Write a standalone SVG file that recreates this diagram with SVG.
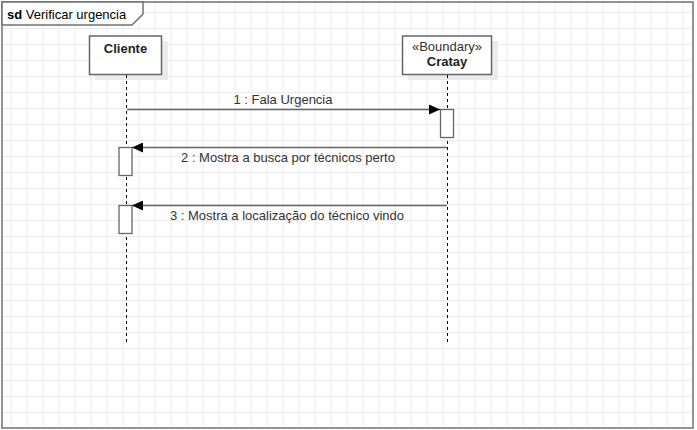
<svg xmlns="http://www.w3.org/2000/svg" width="697" height="430" viewBox="0 0 697 430">
<defs>
<pattern id="grid" x="10.5" y="12" width="16" height="16" patternUnits="userSpaceOnUse">
<path d="M0 0.5H16M0.5 0V16" stroke="#ececec" stroke-width="1" fill="none"/>
</pattern>
<marker id="arr" markerWidth="12" markerHeight="10" refX="11" refY="5" orient="auto" markerUnits="userSpaceOnUse">
<path d="M0 0L11 5L0 10Z" fill="#000"/>
</marker>
<style>
.t{font-family:"Liberation Sans",Arial,sans-serif;font-size:13px;fill:#333}
.b{font-weight:bold}
.box{fill:#fff;stroke:#666;stroke-width:1.5}
.sh{fill:#ebebeb}
.life{stroke:#000;stroke-width:1;stroke-dasharray:3,3}
.msg{stroke:#666;stroke-width:1.5;fill:none}
.act{fill:#fff;stroke:#666;stroke-width:1.3}
</style>
</defs>
<rect width="697" height="430" fill="#fff"/>
<rect x="2" y="2" width="691" height="426" fill="url(#grid)"/>
<g id="frame">
<rect x="2" y="2" width="691" height="426" fill="none" stroke="#707070" stroke-width="1.5"/>
<path d="M2 2H143V14L132 25H2Z" fill="#fff" stroke="#707070" stroke-width="1.5"/>
<text class="t" x="7" y="19" style="fill:#000"><tspan class="b">sd</tspan> Verificar urgencia</text>
</g>
<g id="cliente">
<rect class="sh" x="95" y="41" width="73" height="39"/>
<rect class="box" x="89.5" y="36" width="72" height="38.5"/>
<text class="t b" x="125.5" y="53" text-anchor="middle" style="fill:#222">Cliente</text>
<line class="life" x1="126.5" y1="75" x2="126.5" y2="343"/>
</g>
<g id="cratay">
<rect class="sh" x="408" y="41" width="90" height="39"/>
<rect class="box" x="402.5" y="36" width="89" height="38.5"/>
<text class="t" x="447" y="51" text-anchor="middle">«Boundary»</text>
<text class="t b" x="447" y="66" text-anchor="middle" style="fill:#222">Cratay</text>
<line class="life" x1="447.5" y1="75" x2="447.5" y2="343"/>
</g>
<g id="activations">
<rect class="act" x="440.5" y="109.5" width="13" height="28"/>
<rect class="act" x="119" y="147.5" width="13" height="28"/>
<rect class="act" x="119" y="205.5" width="13" height="28"/>
</g>
<g id="connectors">
<line class="msg" x1="127" y1="109.5" x2="440" y2="109.5" marker-end="url(#arr)"/>
<text class="t" x="283" y="104" text-anchor="middle">1 : Fala Urgencia</text>
<line class="msg" x1="447" y1="147.5" x2="132" y2="147.5" marker-end="url(#arr)"/>
<text class="t" x="288" y="162" text-anchor="middle">2 : Mostra a busca por técnicos perto</text>
<line class="msg" x1="447" y1="205.5" x2="132" y2="205.5" marker-end="url(#arr)"/>
<text class="t" x="287" y="219.5" text-anchor="middle">3 : Mostra a localização do técnico vindo</text>
</g>
</svg>
